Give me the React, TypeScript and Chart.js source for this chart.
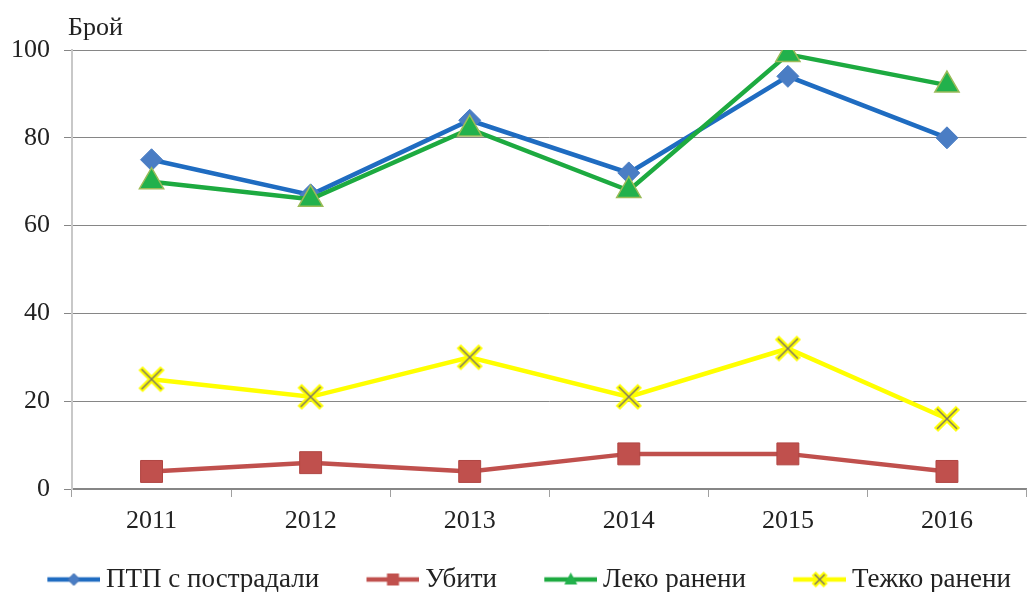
import { useEffect, useRef } from 'react'
import { Chart, registerables } from 'chart.js'

Chart.register(...registerables)

const years = ['2011', '2012', '2013', '2014', '2015', '2016']
const accidents = [75, 67, 84, 72, 94, 80]
const killed = [4, 6, 4, 8, 8, 4]
const lightlyInjured = [70, 66, 82, 68, 99, 92]
const seriouslyInjured = [25, 21, 30, 21, 32, 16]
const seriesNames = ['ПТП с пострадали', 'Убити', 'Леко ранени', 'Тежко ранени']
const yTicks = [0, 20, 40, 60, 80, 100]
const yAxisLabel = 'Брой'

const FONT = "'Liberation Serif', 'Times New Roman', serif"
const BLUE = '#1F6CC1'
const RED = '#C0504D'
const GREEN = '#1DAA40'
const YELLOW = '#FFFF00'

// legend box: line + marker drawn as an image slightly wider than the box
const LEGEND_BOX_W = 65.5
const LEGEND_IMG_W = 81
const LEGEND_LINE = 53

type Draw = (ctx: CanvasRenderingContext2D, cx: number, cy: number) => void

const drawDiamond: Draw = (ctx, cx, cy) => {
  ctx.fillStyle = '#4A7DC4'
  ctx.strokeStyle = '#3E6DB0'
  ctx.lineWidth = 1
  ctx.beginPath()
  ctx.moveTo(cx, cy - 6)
  ctx.lineTo(cx + 6, cy)
  ctx.lineTo(cx, cy + 6)
  ctx.lineTo(cx - 6, cy)
  ctx.closePath()
  ctx.fill()
  ctx.stroke()
}

const drawSquare: Draw = (ctx, cx, cy) => {
  ctx.fillStyle = RED
  ctx.fillRect(cx - 6, cy - 6, 12, 12)
}

const drawTriangle: Draw = (ctx, cx, cy) => {
  ctx.fillStyle = '#22B14C'
  ctx.beginPath()
  ctx.moveTo(cx, cy - 7)
  ctx.lineTo(cx + 6.5, cy + 5)
  ctx.lineTo(cx - 6.5, cy + 5)
  ctx.closePath()
  ctx.fill()
}

const drawCross = (ctx: CanvasRenderingContext2D, cx: number, cy: number, h: number) => {
  ctx.lineCap = 'butt'
  ctx.strokeStyle = YELLOW
  ctx.lineWidth = 6
  ctx.beginPath()
  ctx.moveTo(cx - h, cy - h)
  ctx.lineTo(cx + h, cy + h)
  ctx.moveTo(cx + h, cy - h)
  ctx.lineTo(cx - h, cy + h)
  ctx.stroke()
  ctx.strokeStyle = '#7D7563'
  ctx.lineWidth = 1.5
  ctx.beginPath()
  ctx.moveTo(cx - h + 1, cy - h + 1)
  ctx.lineTo(cx + h - 1, cy + h - 1)
  ctx.moveTo(cx + h - 1, cy - h + 1)
  ctx.lineTo(cx - h + 1, cy + h - 1)
  ctx.stroke()
}

function legendImage(color: string, marker: Draw) {
  const c = document.createElement('canvas')
  c.width = LEGEND_IMG_W
  c.height = 20
  const ctx = c.getContext('2d')!
  const x0 = LEGEND_IMG_W - LEGEND_LINE
  ctx.strokeStyle = color
  ctx.lineWidth = 4.5
  ctx.beginPath()
  ctx.moveTo(x0, 10)
  ctx.lineTo(LEGEND_IMG_W, 10)
  ctx.stroke()
  marker(ctx, x0 + LEGEND_LINE / 2, 10)
  return c
}

function crossMarker() {
  const c = document.createElement('canvas')
  c.width = 28
  c.height = 28
  drawCross(c.getContext('2d')!, 14, 14, 11)
  return c
}

const axisTitle = {
  id: 'axisTitle',
  afterDraw(chart: Chart) {
    const { ctx, chartArea } = chart
    ctx.save()
    ctx.font = `26px ${FONT}`
    ctx.fillStyle = '#222'
    ctx.textAlign = 'left'
    ctx.textBaseline = 'alphabetic'
    ctx.fillText(yAxisLabel, chartArea.left - 4, 35)
    ctx.restore()
  },
}

export default function App() {
  const canvasRef = useRef<HTMLCanvasElement>(null)

  useEffect(() => {
    if (!canvasRef.current) return

    const legendImages = [
      legendImage(BLUE, drawDiamond),
      legendImage(RED, drawSquare),
      legendImage(GREEN, drawTriangle),
      legendImage(YELLOW, (ctx, cx, cy) => drawCross(ctx, cx, cy, 6)),
    ]

    const chart = new Chart(canvasRef.current, {
      type: 'line',
      data: {
        labels: years,
        datasets: [
          {
            label: seriesNames[0],
            data: accidents,
            borderColor: BLUE,
            borderWidth: 4.5,
            pointStyle: 'rectRot',
            pointRadius: 11,
            pointBackgroundColor: '#4A7DC4',
            pointBorderColor: '#4A7DC4',
            pointBorderWidth: 1,
            order: 4,
          },
          {
            label: seriesNames[1],
            data: killed,
            borderColor: RED,
            borderWidth: 4.5,
            pointStyle: 'rect',
            pointRadius: 15.5,
            pointBackgroundColor: RED,
            pointBorderColor: '#B04542',
            pointBorderWidth: 1,
            order: 3,
          },
          {
            label: seriesNames[2],
            data: lightlyInjured,
            borderColor: GREEN,
            borderWidth: 4.5,
            pointStyle: 'triangle',
            pointRadius: 14,
            pointBackgroundColor: '#22B14C',
            pointBorderColor: '#9BBB59',
            pointBorderWidth: 1.5,
            order: 2,
          },
          {
            label: seriesNames[3],
            data: seriouslyInjured,
            borderColor: YELLOW,
            borderWidth: 4.5,
            pointStyle: crossMarker(),
            pointRadius: 14,
            order: 1,
          },
        ],
      },
      options: {
        animation: false,
        responsive: true,
        maintainAspectRatio: false,
        events: [],
        layout: { padding: { top: 50, left: 0, right: 7, bottom: 0 } },
        plugins: {
          tooltip: { enabled: false },
          legend: {
            position: 'bottom',
            labels: {
              usePointStyle: true,
              pointStyleWidth: LEGEND_BOX_W,
              padding: 27,
              color: '#222',
              font: { family: FONT, size: 27 },
              generateLabels: () =>
                seriesNames.map((text, i) => ({
                  text,
                  pointStyle: legendImages[i],
                  fillStyle: 'transparent',
                  strokeStyle: 'transparent',
                  lineWidth: 0,
                  hidden: false,
                  datasetIndex: i,
                  fontColor: '#222',
                })),
            },
          },
        },
        scales: {
          x: {
            offset: true,
            grid: {
              offset: true,
              drawOnChartArea: false,
              drawTicks: true,
              tickLength: 8,
              color: '#A0A0A0',
            },
            border: { display: true, color: '#868686', width: 1.5 },
            ticks: {
              color: '#222',
              padding: 9,
              font: { family: FONT, size: 26 },
            },
            afterFit: (scale: any) => {
              scale.height = 50
            },
          },
          y: {
            min: 0,
            max: 100,
            afterBuildTicks: (scale: any) => {
              scale.ticks = yTicks.map((value) => ({ value }))
            },
            grid: { color: '#868686', lineWidth: 1, tickLength: 8 },
            border: { display: true, color: '#C8C8C8', width: 2 },
            ticks: {
              color: '#222',
              padding: 14,
              font: { family: FONT, size: 26 },
            },
            afterFit: (scale: any) => {
              scale.width = 72
            },
          },
        },
      },
      plugins: [axisTitle],
    })

    return () => chart.destroy()
  }, [])

  return (
    <div
      style={{
        position: 'fixed',
        left: 0,
        top: 0,
        width: 1033,
        height: 592,
        overflow: 'hidden',
        background: '#fff',
      }}
    >
      <div style={{ position: 'relative', width: 1045, height: 603 }}>
        <canvas ref={canvasRef} />
      </div>
    </div>
  )
}
